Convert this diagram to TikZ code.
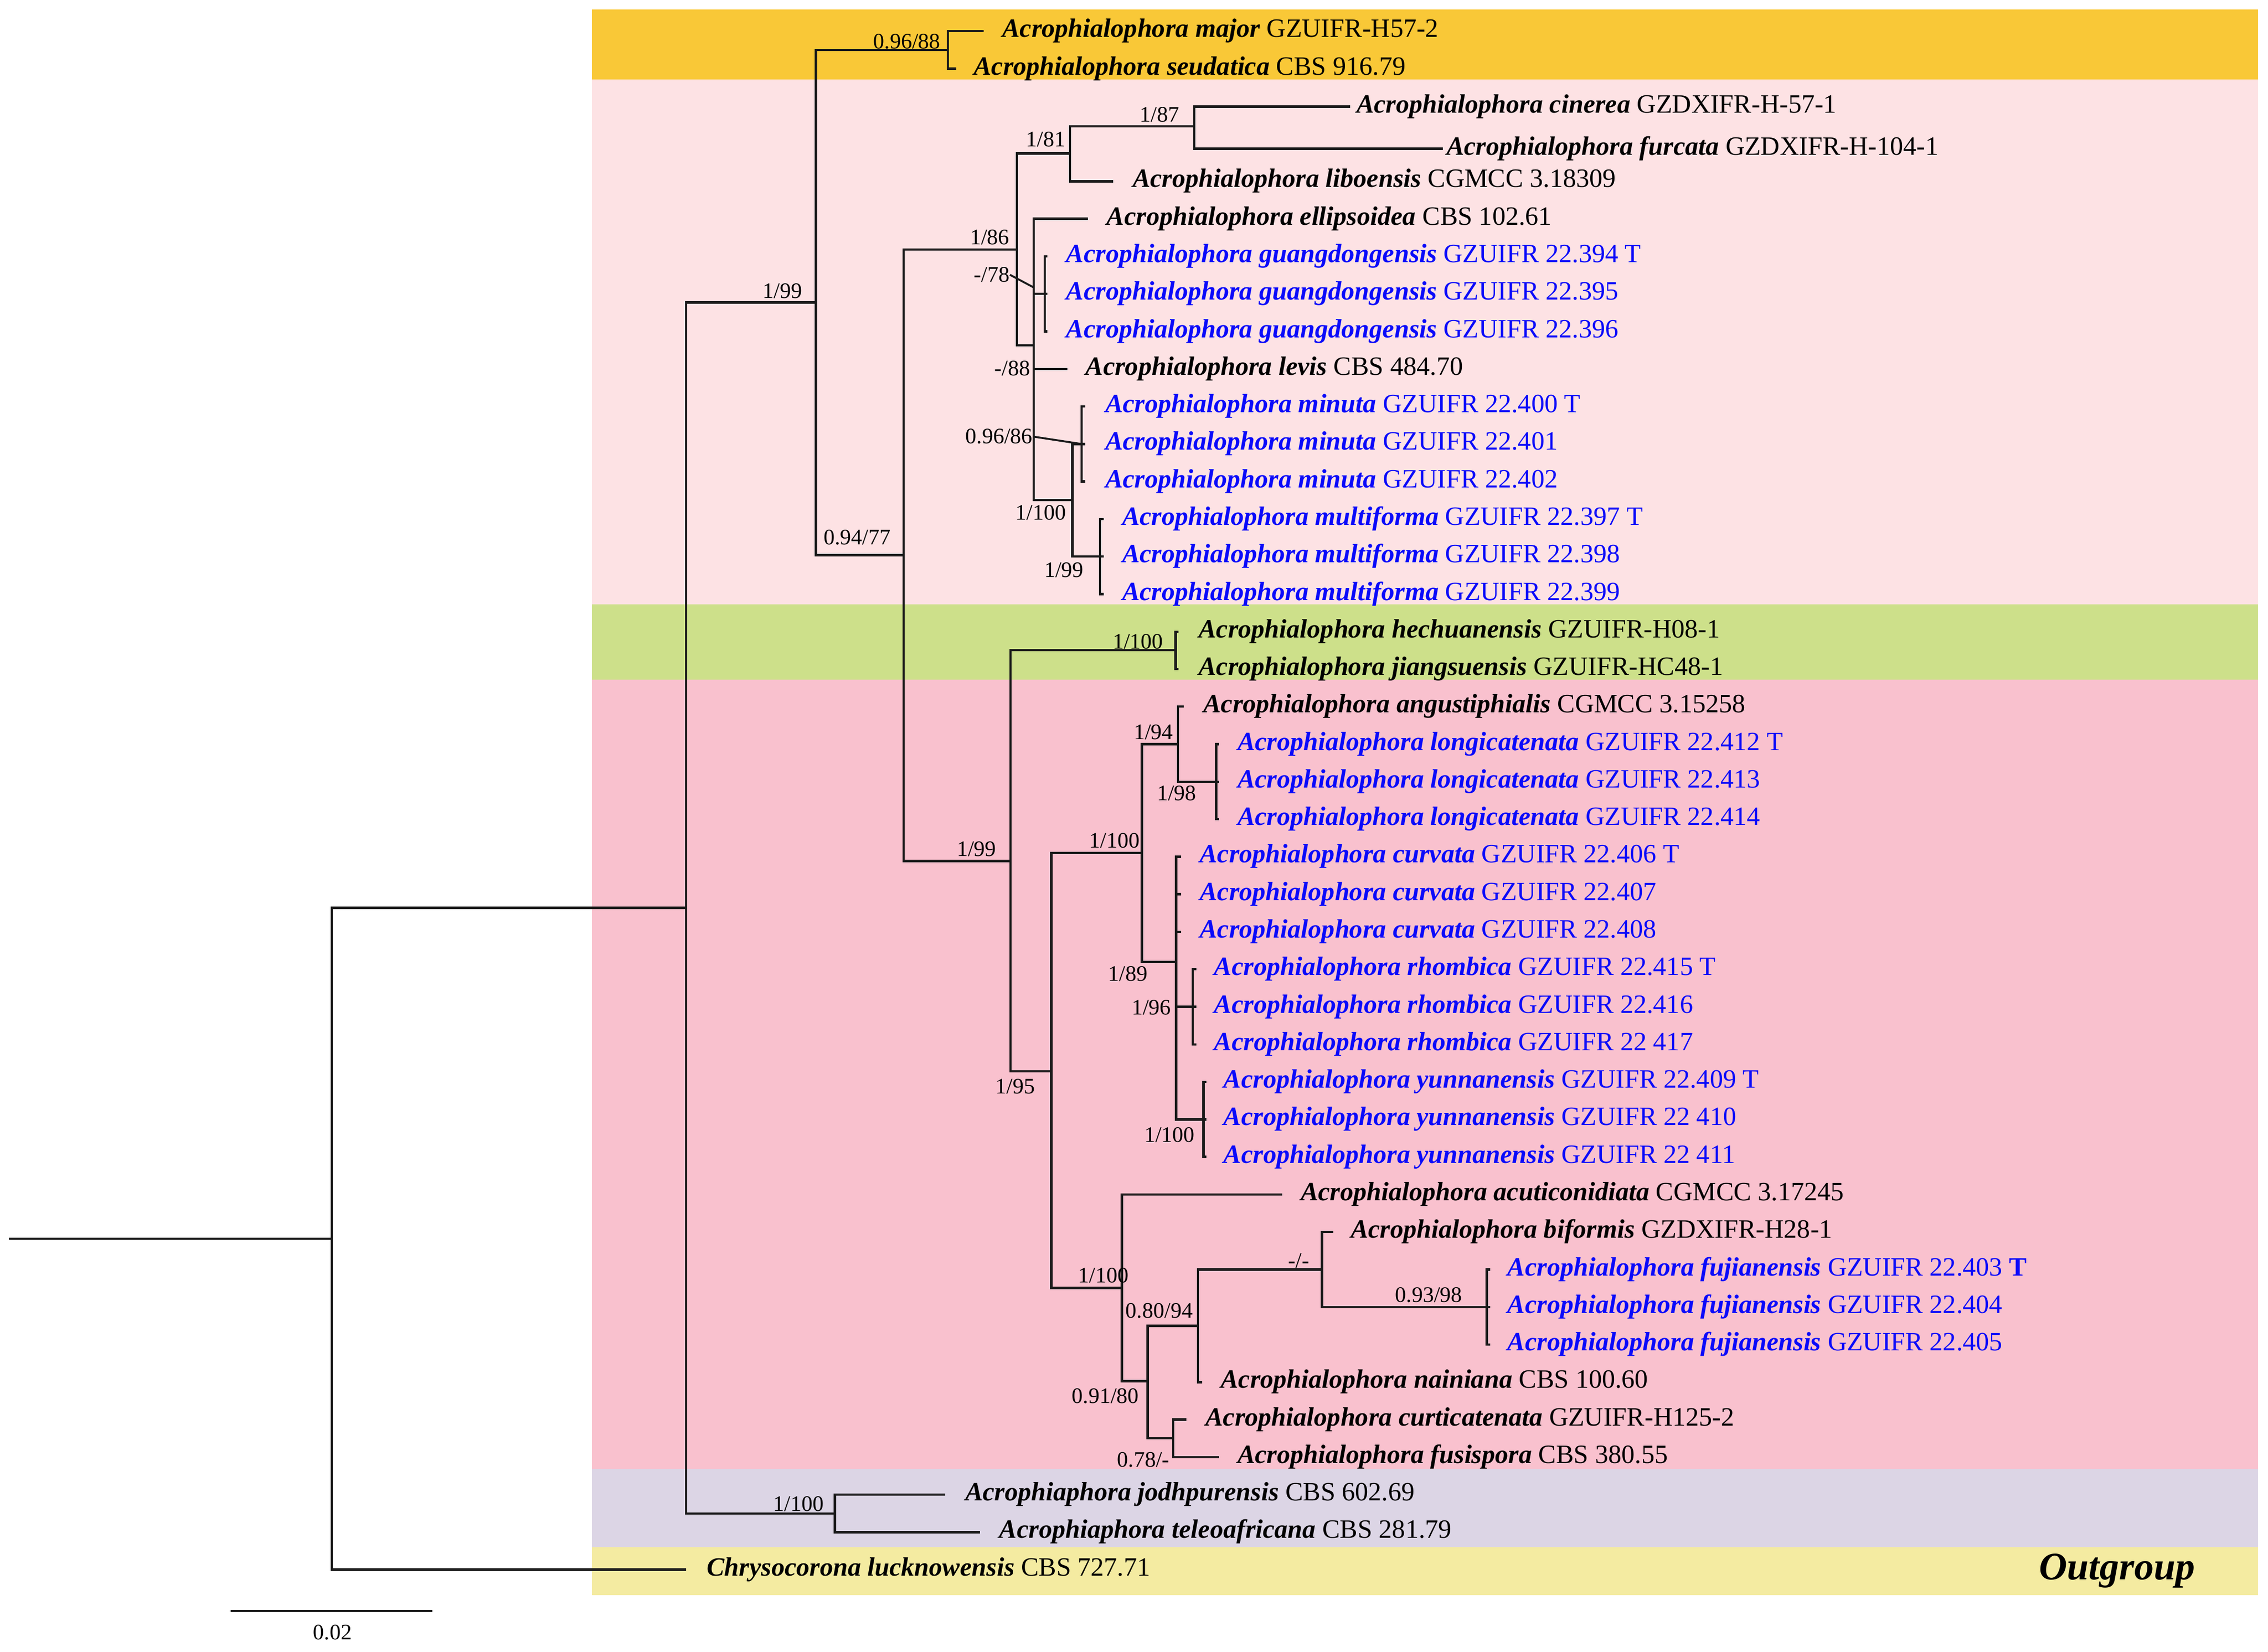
\documentclass[tikz,border=0pt]{standalone}
\usepackage{fontspec}
\setmainfont{Liberation Serif}
\definecolor{bOrange}{HTML}{F9C837}
\definecolor{bLpink}{HTML}{FDE2E4}
\definecolor{bGreen}{HTML}{CDE08A}
\definecolor{bPink}{HTML}{F9C1CE}
\definecolor{bLav}{HTML}{DCD5E5}
\definecolor{bYel}{HTML}{F4EBA1}
\definecolor{tBlue}{HTML}{0A0AFA}
\definecolor{brc}{HTML}{1A1A1A}
\newcommand{\mytip}[7]{%
  \coordinate (t#1) at (#2,#3);%
  \node[taxon,text=#5] (l#1) at (#4,#3+4.2) {\textbf{\textit{#6}} #7};%
}
\newcommand{\mysup}[4]{%
  \node[suplab] (#1) at (#2,#3+5) {#4};%
}
\begin{document}
\begin{tikzpicture}[x=0.6894pt,y=-0.6894pt,
  taxon/.style={anchor=base west,inner sep=0pt,font=\fontsize{12.55}{14}\selectfont},
  suplab/.style={anchor=base,inner sep=0pt,font=\fontsize{10.5}{12}\selectfont},
  br/.style={line width=1.1pt,draw=brc,line join=miter},
  leader/.style={line width=0.9pt,draw=brc}]
\useasboundingbox (0,0) rectangle (1562,1138);
% background bands
\fill[bOrange] (407.6,6.5) rectangle (1555,54.6);
\fill[bLpink] (407.6,54.6) rectangle (1555,416.4);
\fill[bGreen] (407.6,416.4) rectangle (1555,468.3);
\fill[bPink] (407.6,468.3) rectangle (1555,1012);
\fill[bLav] (407.6,1012) rectangle (1555,1066);
\fill[bYel] (407.6,1066) rectangle (1555,1099);
% internal nodes
\coordinate (root) at (6,853.4);
\coordinate (A) at (228.5,853.4);
\coordinate (B) at (472.6,625.4);
\coordinate (C) at (562,208.4);
\coordinate (D) at (575,1042.6);
\coordinate (E) at (652.7,34.4);
\coordinate (F) at (622.4,382.5);
\coordinate (G) at (700.4,172);
\coordinate (H) at (737,105.7);
\coordinate (K) at (822.6,87);
\coordinate (I) at (711.9,238);
\coordinate (gd) at (719.5,202.45);
\coordinate (J) at (738.6,344.6);
\coordinate (mn) at (744.8,305.85);
\coordinate (mf) at (757.6,383.4);
\coordinate (L) at (696,593.2);
\coordinate (M) at (809.7,448);
\coordinate (N) at (724,738);
\coordinate (O) at (786.4,587.6);
\coordinate (Q) at (811.3,512.7);
\coordinate (S) at (837.6,538.5);
\coordinate (R) at (810,662.5);
\coordinate (U) at (821.5,693.6);
\coordinate (T) at (828.8,771.15);
\coordinate (P) at (772.6,887.2);
\coordinate (V) at (790.4,951.5);
\coordinate (W) at (825,913.3);
\coordinate (X) at (808,990.9);
\coordinate (Y) at (910.4,874.6);
\coordinate (Z) at (1024,900.4);
% tips and labels
\mytip{0}{677.6}{21.5}{690}{black}{Acrophialophora major}{GZUIFR-H57-2}
\mytip{1}{658.7}{47.35}{670.4}{black}{Acrophialophora seudatica}{CBS 916.79}
\mytip{2}{929.9}{73.5}{934}{black}{Acrophialophora cinerea}{GZDXIFR-H-57-1}
\mytip{3}{993.6}{102.5}{996}{black}{Acrophialophora furcata}{GZDXIFR-H-104-1}
\mytip{4}{766.5}{124.9}{779.8}{black}{Acrophialophora liboensis}{CGMCC 3.18309}
\mytip{5}{749.3}{150.75}{762}{black}{Acrophialophora ellipsoidea}{CBS 102.61}
\mytip{6}{721.5}{176.6}{734}{tBlue}{Acrophialophora guangdongensis}{GZUIFR 22.394 T}
\mytip{7}{721.5}{202.45}{734}{tBlue}{Acrophialophora guangdongensis}{GZUIFR 22.395}
\mytip{8}{721.5}{228.3}{734}{tBlue}{Acrophialophora guangdongensis}{GZUIFR 22.396}
\mytip{9}{735.2}{254.15}{747.4}{black}{Acrophialophora levis}{CBS 484.70}
\mytip{10}{747.5}{280}{761}{tBlue}{Acrophialophora minuta}{GZUIFR 22.400 T}
\mytip{11}{747.5}{305.85}{761}{tBlue}{Acrophialophora minuta}{GZUIFR 22.401}
\mytip{12}{747.5}{331.7}{761}{tBlue}{Acrophialophora minuta}{GZUIFR 22.402}
\mytip{13}{760}{357.55}{772.6}{tBlue}{Acrophialophora multiforma}{GZUIFR 22.397 T}
\mytip{14}{760}{383.4}{772.6}{tBlue}{Acrophialophora multiforma}{GZUIFR 22.398}
\mytip{15}{760}{409.25}{772.6}{tBlue}{Acrophialophora multiforma}{GZUIFR 22.399}
\mytip{16}{811.5}{435.1}{825.3}{black}{Acrophialophora hechuanensis}{GZUIFR-H08-1}
\mytip{17}{811.5}{460.95}{825.3}{black}{Acrophialophora jiangsuensis}{GZUIFR-HC48-1}
\mytip{18}{815.2}{486.8}{828.5}{black}{Acrophialophora angustiphialis}{CGMCC 3.15258}
\mytip{19}{839.5}{512.65}{852}{tBlue}{Acrophialophora longicatenata}{GZUIFR 22.412 T}
\mytip{20}{839.5}{538.5}{852}{tBlue}{Acrophialophora longicatenata}{GZUIFR 22.413}
\mytip{21}{839.5}{564.35}{852}{tBlue}{Acrophialophora longicatenata}{GZUIFR 22.414}
\mytip{22}{813.5}{590.2}{826}{tBlue}{Acrophialophora curvata}{GZUIFR 22.406 T}
\mytip{23}{813.5}{616.05}{826}{tBlue}{Acrophialophora curvata}{GZUIFR 22.407}
\mytip{24}{813.5}{641.9}{826}{tBlue}{Acrophialophora curvata}{GZUIFR 22.408}
\mytip{25}{824}{667.75}{836}{tBlue}{Acrophialophora rhombica}{GZUIFR 22.415 T}
\mytip{26}{824}{693.6}{836}{tBlue}{Acrophialophora rhombica}{GZUIFR 22.416}
\mytip{27}{824}{719.45}{836}{tBlue}{Acrophialophora rhombica}{GZUIFR 22 417}
\mytip{28}{831}{745.3}{842.5}{tBlue}{Acrophialophora yunnanensis}{GZUIFR 22.409 T}
\mytip{29}{831}{771.15}{842.5}{tBlue}{Acrophialophora yunnanensis}{GZUIFR 22 410}
\mytip{30}{831}{797}{842.5}{tBlue}{Acrophialophora yunnanensis}{GZUIFR 22 411}
\mytip{31}{882.9}{822.85}{895.5}{black}{Acrophialophora acuticonidiata}{CGMCC 3.17245}
\mytip{32}{918.3}{848.7}{930}{black}{Acrophialophora biformis}{GZDXIFR-H28-1}
\mytip{33}{1026.5}{874.55}{1038}{tBlue}{Acrophialophora fujianensis}{GZUIFR 22.403 \textbf{T}}
\mytip{34}{1026.5}{900.4}{1038}{tBlue}{Acrophialophora fujianensis}{GZUIFR 22.404}
\mytip{35}{1026.5}{926.25}{1038}{tBlue}{Acrophialophora fujianensis}{GZUIFR 22.405}
\mytip{36}{827.8}{952.1}{840.5}{black}{Acrophialophora nainiana}{CBS 100.60}
\mytip{37}{816.9}{977.95}{830}{black}{Acrophialophora curticatenata}{GZUIFR-H125-2}
\mytip{38}{839.6}{1003.8}{852}{black}{Acrophialophora fusispora}{CBS 380.55}
\mytip{39}{651}{1029.65}{664.5}{black}{Acrophiaphora jodhpurensis}{CBS 602.69}
\mytip{40}{675}{1055.5}{688}{black}{Acrophiaphora teleoafricana}{CBS 281.79}
\mytip{41}{472.6}{1081.35}{486.5}{black}{Chrysocorona lucknowensis}{CBS 727.71}
% branches
\draw[br] (root) -- (A);
\draw[br] (A) |- (B);  \draw[br] (A) |- (t41);
\draw[br] (B) |- (C);  \draw[br] (B) |- (D);
\draw[br] (C) |- (E);  \draw[br] (C) |- (F);
\draw[br] (E) |- (t0); \draw[br] (E) |- (t1);
\draw[br] (F) |- (G);  \draw[br] (F) |- (L);
\draw[br] (G) |- (H);  \draw[br] (G) |- (I);
\draw[br] (H) |- (K);  \draw[br] (H) |- (t4);
\draw[br] (K) |- (t2); \draw[br] (K) |- (t3);
\draw[br] (I) |- (t5); \draw[br] (I) |- (gd); \draw[br] (I) |- (t9); \draw[br] (I) |- (J);
\draw[br] (gd) |- (t6); \draw[br] (gd) |- (t7); \draw[br] (gd) |- (t8);
\draw[br] (J) |- (mn); \draw[br] (J) |- (mf);
\draw[br] (mn) |- (t10); \draw[br] (mn) |- (t11); \draw[br] (mn) |- (t12);
\draw[br] (mf) |- (t13); \draw[br] (mf) |- (t14); \draw[br] (mf) |- (t15);
\draw[br] (L) |- (M); \draw[br] (L) |- (N);
\draw[br] (M) |- (t16); \draw[br] (M) |- (t17);
\draw[br] (N) |- (O); \draw[br] (N) |- (P);
\draw[br] (O) |- (Q); \draw[br] (O) |- (R);
\draw[br] (Q) |- (t18); \draw[br] (Q) |- (S);
\draw[br] (S) |- (t19); \draw[br] (S) |- (t20); \draw[br] (S) |- (t21);
\draw[br] (R) |- (t22); \draw[br] (R) |- (t23); \draw[br] (R) |- (t24);
\draw[br] (R) |- (U); \draw[br] (R) |- (T);
\draw[br] (U) |- (t25); \draw[br] (U) |- (t26); \draw[br] (U) |- (t27);
\draw[br] (T) |- (t28); \draw[br] (T) |- (t29); \draw[br] (T) |- (t30);
\draw[br] (P) |- (t31); \draw[br] (P) |- (V);
\draw[br] (V) |- (W); \draw[br] (V) |- (X);
\draw[br] (W) |- (Y); \draw[br] (W) |- (t36);
\draw[br] (Y) |- (t32); \draw[br] (Y) |- (Z);
\draw[br] (Z) |- (t33); \draw[br] (Z) |- (t34); \draw[br] (Z) |- (t35);
\draw[br] (X) |- (t37); \draw[br] (X) |- (t38);
\draw[br] (D) |- (t39); \draw[br] (D) |- (t40);
% support values
\mysup{s1}{624.6}{28.5}{0.96/88}
\mysup{s2}{539}{200.6}{1/99}
\mysup{s3}{590.4}{370}{0.94/77}
\mysup{s4}{798.5}{79}{1/87}
\mysup{s5}{720.3}{96}{1/81}
\mysup{s6}{681.6}{163.6}{1/86}
\mysup{s7}{683}{189.3}{-/78}
\mysup{s8}{697.3}{253.9}{-/88}
\mysup{s9}{688}{300.7}{0.96/86}
\mysup{s10}{716.8}{353}{1/100}
\mysup{s11}{732.7}{392.7}{1/99}
\mysup{s12}{783.7}{442}{1/100}
\mysup{s13}{672.5}{584.8}{1/99}
\mysup{s14}{767.5}{579}{1/100}
\mysup{s15}{794.4}{504.3}{1/94}
\mysup{s16}{810.4}{546.6}{1/98}
\mysup{s17}{776.8}{670.8}{1/89}
\mysup{s18}{793}{694}{1/96}
\mysup{s19}{805.5}{781.8}{1/100}
\mysup{s20}{699.3}{748.5}{1/95}
\mysup{s21}{760}{878.7}{1/100}
\mysup{s22}{798.4}{903}{0.80/94}
\mysup{s23}{894.4}{868.6}{-/-}
\mysup{s24}{984}{892}{0.93/98}
\mysup{s25}{761.3}{961.7}{0.91/80}
\mysup{s26}{787.4}{1005.7}{0.78/-}
\mysup{s27}{550}{1036}{1/100}
% leaders
\coordinate (ld78) at (711.5,197.8);
\draw[leader] (s7.east) -- (ld78);
\draw[leader] (s9.east) -- (mn);
% outgroup label
\node[anchor=base west,inner sep=0pt,font=\fontsize{18.5}{20}\selectfont\bfseries\itshape] (og) at (1404,1088) {Outgroup};
% scale bar
\coordinate (sbL) at (158.7,1109.7);
\coordinate (sbR) at (297.9,1109.7);
\draw[br] (sbL) -- (sbR);
\mysup{sb}{229}{1124.6}{0.02}
\end{tikzpicture}
\end{document}
